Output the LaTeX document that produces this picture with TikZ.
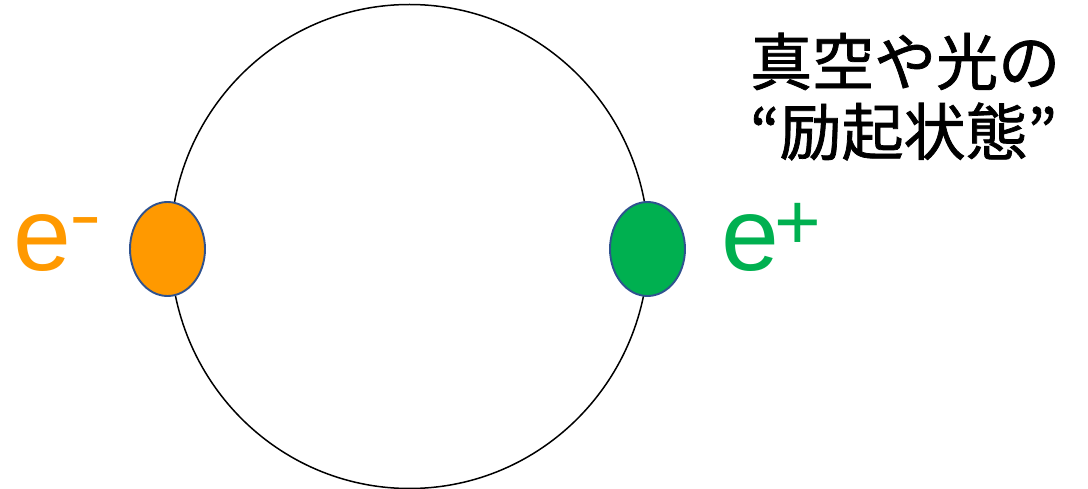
\documentclass[tikz,border=0pt]{standalone}
\usepackage{fontspec}
\usetikzlibrary{shapes.geometric}
\setmainfont{Liberation Sans}
\newfontfamily\cjk[FakeBold=1.2]{Noto Sans CJK JP}
\definecolor{eorange}{HTML}{FF9900}
\definecolor{egreen}{HTML}{00B050}
\definecolor{edgeblue}{HTML}{2F528F}
\begin{document}
\begin{tikzpicture}[x=1pt,y=-1pt,
  particle/.style={ellipse, minimum width=75pt, minimum height=94pt, draw=edgeblue, line width=1.9pt, inner sep=0pt},
  lbl/.style={inner sep=0pt, anchor=base west, font=\fontsize{104}{110}\selectfont},
  jtext/.style={inner sep=0pt, anchor=base west, font=\cjk\fontsize{62}{70}\selectfont}]
\useasboundingbox (0,0) rectangle (1088,489);
\node[draw=black, line width=1.5pt, ellipse, minimum width=478pt, minimum height=484pt, inner sep=0pt] (loop) at (409.5,246.5) {};
\node[particle, fill=eorange] (electron) at (167.5,249) {};
\node[particle, fill=egreen] (positron) at (647.5,249) {};
\node[lbl, text=eorange] (eminus) at (13,271) {e\kern-2pt\raisebox{31pt}{\fontsize{72}{76}\selectfont\scalebox{1.35}[1]{-}}};
\node[lbl, text=egreen] (eplus) at (721,271) {e\kern-5pt\raisebox{21pt}{\fontsize{80}{84}\selectfont +}};
\node[jtext] (line1) at (750,85) {真空や光の};
\node[jtext] (line2) at (750,155) {“励起状態”};
\end{tikzpicture}
\end{document}
